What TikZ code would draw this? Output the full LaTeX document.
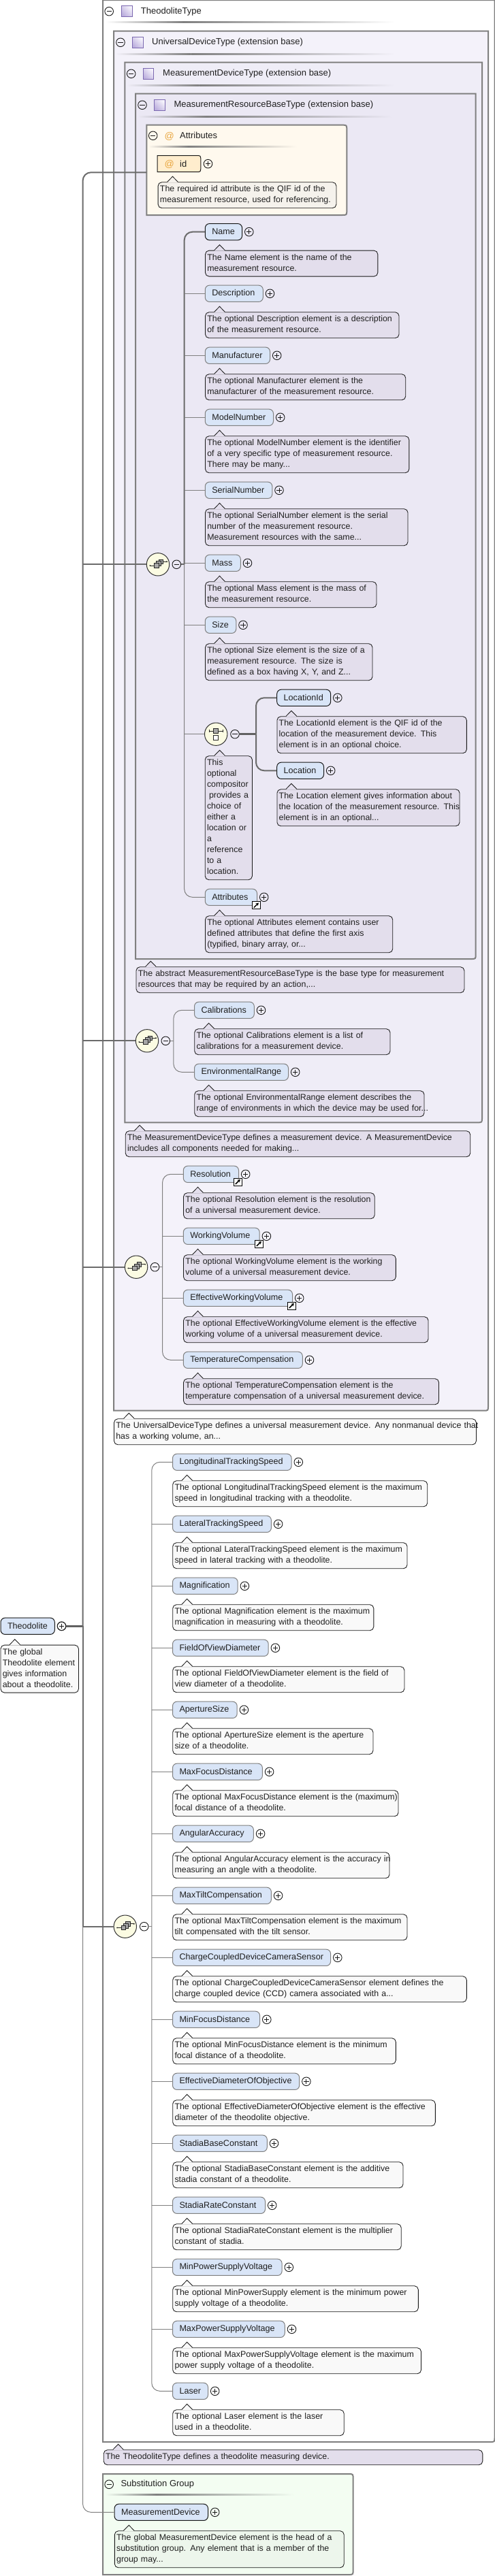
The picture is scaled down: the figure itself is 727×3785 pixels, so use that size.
\documentclass[tikz,border=0pt]{standalone}
\usepackage{fontspec}
\setmainfont{Liberation Sans}
\usetikzlibrary{arrows.meta}
\definecolor{bgU}{HTML}{F4F2FA}
\definecolor{bgM}{HTML}{EFEDF7}
\definecolor{bgR}{HTML}{EBE8F4}
\definecolor{bgA}{HTML}{FFF9EE}
\definecolor{bgS}{HTML}{F3FDF2}
\definecolor{docv}{HTML}{E3DEEC}
\definecolor{docw}{HTML}{F9F9F9}
\definecolor{doca}{HTML}{F5F2EC}
\definecolor{docs}{HTML}{EDF6EC}
\definecolor{elf}{HTML}{D9E5F7}
\definecolor{idf}{HTML}{FFEDCD}
\definecolor{atc}{HTML}{E9A63F}
\definecolor{ovalf}{HTML}{FBFBE2}
\definecolor{bordr}{HTML}{808080}
\definecolor{sqb}{HTML}{7B68B0}
\definecolor{sqd}{HTML}{BDB0DE}
\definecolor{sql}{HTML}{F6F4FC}
\definecolor{symg}{HTML}{A6A6A6}
\tikzset{
  every node/.style={font=\fontsize{12.4}{16}\selectfont,text=black!88},
  cbox/.style={draw=bordr,line width=2pt},
  elbox/.style={draw=bordr,line width=1pt,fill=elf,rounded corners=6.5pt,inner xsep=10pt,inner ysep=0pt,minimum height=24.3pt,align=left,font=\fontsize{12.6}{16}\selectfont},
  req/.style={draw=black!90},
  docbox/.style={draw=black!90,line width=0.85pt,rounded corners=5.5pt,inner xsep=2.8pt,inner ysep=0pt,align=left},
  docln/.style={draw=black!90,line width=0.85pt},
  pm/.style={circle,draw=black!90,line width=0.9pt,minimum size=12.6pt,inner sep=0pt},
  pmln/.style={draw=black!90,line width=0.9pt},
  ttl/.style={anchor=west,inner sep=0pt,font=\fontsize{13}{16}\selectfont},
  oval/.style={circle,draw=black!80,line width=1pt,fill=ovalf,minimum size=33.4pt,inner sep=0pt},
  thn/.style={draw=bordr,line width=1pt},
  mid/.style={draw=black!58,line width=2pt},
  thk/.style={draw=black!62,line width=2.6pt},
  sy/.style={draw=black!85,line width=0.8pt,fill=symg},
  refi/.style={rectangle,draw=black,line width=1pt,fill=white,minimum width=12pt,minimum height=11pt,inner sep=0pt},
}
\newcommand\xsMinus[3]{\node[pm] (#1) at (#2,#3) {}; \draw[pmln] (#2-3.6,#3) -- (#2+3.6,#3);}
\newcommand\xsPlus[3]{\node[pm] (#1) at (#2,#3) {}; \draw[pmln] (#2-3.6,#3) -- (#2+3.6,#3) (#2,#3-3.6) -- (#2,#3+3.6);}
\newcommand\xsSquare[2]{\path[draw=sqb,line width=1pt,shade,shading=axis,left color=sql,right color=sqd,shading angle=-45] (#1,#2) rectangle (#1+15.5,#2+16);}
\newcommand\xsRule[4]{\pgfmathsetmacro\xsp{#1+0.27*(#2-#1)}%
  \shade[left color=#4,right color=bordr] (#1,#3-1) rectangle (\xsp,#3+1);
  \shade[left color=bordr,right color=#4] (\xsp,#3-1) rectangle (#2,#3+1);}
\newcommand\xsBox[5]{\draw[cbox,fill=#5] (#1,#2) -- (#3,#2) -- (#3,#4-7) .. controls (#3,#4) .. (#3-7,#4) -- (#1,#4) -- cycle;}
\newcommand\xsTitle[4]{\node[ttl] (#1) at (#3,#2) {#4};}
\def\xsF{docv}
% id, left, right, top, lines, apex, text
\newcommand\xsDc[7]{\pgfmathsetmacro\xsw{#3-#2}\pgfmathsetmacro\xst{#3-#2-5.6}\pgfmathsetmacro\xsh{6+16*#5}%
  \node[docbox,fill=\xsF,anchor=north west,minimum width=\xsw pt,minimum height=\xsh pt,text width=\xst pt] (#1) at (#2,#4)
    {\begin{tabular}{@{}l@{}}#7\end{tabular}};
  \fill[\xsF] (#6-7.8,#4+0.8) -- (#6,#4-8) -- (#6+7.8,#4+0.8) -- cycle;
  \draw[docln] (#6-7.8,#4) -- (#6,#4-8) -- (#6+7.8,#4);}
% id, style, left, right, cy, label
\newcommand\xsEl[6]{\pgfmathsetmacro\xsw{#4-#3}\pgfmathsetmacro\xst{#4-#3-20}%
  \node[elbox,#2,anchor=west,minimum width=\xsw pt,text width=\xst pt] (#1) at (#3,#5) {\mbox{#6}};
  \xsPlus{#1p}{#4+10.7}{#5}}
% id, style, left, right, cy, docright, lines, label, doctext
\newcommand\xsE[9]{\xsEl{#1}{#2}{#3}{#4}{#5}{#8}
  \xsDc{#1d}{#3+0.3}{#6}{#5+27}{#7}{#3+21.7}{#9}}
\newcommand\xsRef[3]{\node[refi] (#1) at (#2,#3) {};
  \draw[black,line width=1.5pt,-{Stealth[length=4pt,width=5pt]}] (#2-3.2,#3+3.4) -- (#2+3.8,#3-3.6);}
\newcommand\xsSeq[3]{\node[oval] (#1) at (#2,#3) {};
  \draw[black!85,line width=0.8pt] (#2-11.7,#3+1.7) -- (#2-5.7,#3+1.7);
  \fill[black!85] (#2-11.7,#3+1.7) circle (1pt);
  \draw[black!85,line width=0.8pt] (#2+7.7,#3-4) -- (#2+12.5,#3-4);
  \fill[black!85] (#2+13,#3-4) circle (1.1pt);
  \draw[sy] (#2+1,#3-7.3) rectangle (#2+7.7,#3-0.7);
  \draw[sy] (#2-2.4,#3-4.5) rectangle (#2+4.3,#3+2.2);
  \draw[sy] (#2-5.7,#3-1.7) rectangle (#2+1,#3+5);}
\begin{document}
\begin{tikzpicture}[x=1pt,y=-1pt]
\useasboundingbox (0,0) rectangle (727,3785);
\fill[white] (0,0) rectangle (727,3785);
% containers
\xsBox{151}{0}{726.5}{3588}{white}
\xsBox{167}{45.7}{717}{2072.7}{bgU}
\xsBox{183.4}{91.7}{708}{1649.3}{bgM}
\xsBox{199}{137.7}{698.7}{1409}{bgR}
\draw[cbox,fill=bgA] (215.4,183.7) -- (502.3,183.7) .. controls (509.3,183.7) .. (509.3,190.7) -- (509.3,309) .. controls (509.3,316) .. (502.3,316) -- (215.4,316) -- cycle;
\draw[cbox,fill=bgS] (151,3635) -- (511.6,3635) .. controls (518.6,3635) .. (518.6,3642) -- (518.6,3776) .. controls (518.6,3783) .. (511.6,3783) -- (151,3783) -- cycle;
% titles
\xsMinus{mT}{160.2}{16.7}\xsSquare{178.5}{8}\xsTitle{tT}{16.7}{206.7}{TheodoliteType}\xsRule{155}{580}{32.7}{white}
\xsMinus{mU}{177}{62.3}\xsSquare{194.5}{54.3}\xsTitle{tU}{62.3}{223}{UniversalDeviceType (extension base)}\xsRule{169.5}{580}{79}{bgU}
\xsMinus{mM}{192.7}{108.3}\xsSquare{210}{100.3}\xsTitle{tM}{108.3}{239}{MeasurementDeviceType (extension base)}\xsRule{186}{580}{125}{bgM}
\xsMinus{mR}{209}{154.3}\xsSquare{226.5}{146.3}\xsTitle{tR}{154.3}{255.3}{MeasurementResourceBaseType (extension base)}\xsRule{202}{576}{171}{bgR}
\xsMinus{mA}{224.7}{199.3}\node[ttl,text=atc] (atA) at (241.5,200.7) {\fontsize{14}{16}\selectfont @};\xsTitle{tA}{199.3}{264}{Attributes}\xsRule{218}{436}{215}{bgA}
\xsMinus{mS}{160.2}{3650.3}\xsTitle{tS}{3650.3}{177.3}{Substitution Group}\xsRule{155}{432}{3665.7}{bgS}
% id attribute
\draw[line width=1pt,draw=black!90,fill=idf] (231.2,228.5) -- (288,228.5) .. controls (294.8,228.5) .. (294.8,235.5) -- (294.8,245.5) .. controls (294.8,252.7) .. (288,252.7) -- (231.2,252.7) -- cycle;
\node[ttl,text=atc] (atId) at (241.5,241.5) {\fontsize{14}{16}\selectfont @};
\node[ttl] (nId) at (264,240.7) {id};
\xsPlus{pId}{305.5}{240.7}
\def\xsF{doca}
\xsDc{dId}{231.7}{493.5}{267.3}{2}{253.5}{The required id attribute is the QIF id of the\\measurement resource, used for referencing.}
% Resource sequence
\def\xsF{docv}
\xsE{eName}{req}{300.8}{355.1}{340.7}{553.8}{2}{Name}{The Name element is the name of the\\measurement resource.}
\xsE{eDesc}{}{300.8}{385.8}{431.3}{585}{2}{Description}{The optional Description element is a description\\of the measurement resource.}
\xsE{eManu}{}{300.8}{396}{522.3}{594.7}{2}{Manufacturer}{The optional Manufacturer element is the\\manufacturer of the measurement resource.}
\xsE{eModel}{}{300.8}{401}{613.3}{599.8}{3}{ModelNumber}{The optional ModelNumber element is the identifier\\of a very specific type of measurement resource.\\There may be many...}
\xsE{eSerial}{}{300.8}{399.3}{720.3}{598}{3}{SerialNumber}{The optional SerialNumber element is the serial\\number of the measurement resource.\\Measurement resources with the same...}
\xsE{eMass}{}{300.8}{352.8}{827.3}{552}{2}{Mass}{The optional Mass element is the mass of\\the measurement resource.}
\xsE{eSize}{}{300.8}{346.3}{918.3}{546}{3}{Size}{The optional Size element is the size of a\\measurement resource. The size is\\defined as a box having X, Y, and Z...}
\xsE{eLocId}{req}{406.2}{485.1}{1025.3}{684.3}{3}{LocationId}{The LocationId element is the QIF id of the\\location of the measurement device. This\\element is in an optional choice.}
\xsE{eLoc}{req}{406.2}{475}{1132.3}{674}{3}{Location}{The Location element gives information about\\the location of the measurement resource. This\\element is in an optional...}
\xsDc{dCh}{300.8}{370}{1110.3}{11}{322.6}{This\\optional\\compositor\\\hspace{3pt}provides a\\choice of\\either a\\location or\\a\\reference\\to a\\location.}
\xsE{eAttr}{}{300.8}{377}{1318.3}{575.7}{3}{Attributes}{The optional Attributes element contains user\\defined attributes that define the first axis\\(typified, binary array, or...}
\xsRef{rAttr}{376}{1330.2}
\xsDc{dRes}{199.6}{681.5}{1420.3}{2}{221.4}{The abstract MeasurementResourceBaseType is the base type for measurement\\resources that may be required by an action,...}
% Measurement sequence
\xsE{eCal}{}{285}{372.8}{1484.3}{572}{2}{Calibrations}{The optional Calibrations element is a list of\\calibrations for a measurement device.}
\xsE{eEnv}{}{285}{423}{1575.3}{622}{2}{EnvironmentalRange}{The optional EnvironmentalRange element describes the\\range of environments in which the device may be used for...}
\xsDc{dMeas}{183.8}{690.3}{1661.3}{2}{205.2}{The MeasurementDeviceType defines a measurement device. A MeasurementDevice\\includes all components needed for making...}
% Universal sequence
\xsE{eRes}{}{268.8}{350}{1725.3}{549.2}{2}{Resolution}{The optional Resolution element is the resolution\\of a universal measurement device.}
\xsRef{rRes}{349}{1736.5}
\xsE{eWork}{}{268.8}{380.7}{1816.3}{580.3}{2}{WorkingVolume}{The optional WorkingVolume element is the working\\volume of a universal measurement device.}
\xsRef{rWork}{380}{1827.5}
\xsE{eEff}{}{268.8}{429}{1907.3}{628}{2}{EffectiveWorkingVolume}{The optional EffectiveWorkingVolume element is the effective\\working volume of a universal measurement device.}
\xsRef{rEff}{428}{1918.5}
\xsE{eTemp}{}{268.8}{443.8}{1998.3}{643.5}{2}{TemperatureCompensation}{The optional TemperatureCompensation element is the\\temperature compensation of a universal measurement device.}
\def\xsF{docw}
\xsDc{dUni}{167.1}{699}{2084.3}{2}{189.4}{The UniversalDeviceType defines a universal measurement device. Any nonmanual device that\\has a working volume, an...}
% Theodolite sequence
\xsE{eLong}{}{253}{427.6}{2148.3}{626.7}{2}{LongitudinalTrackingSpeed}{The optional LongitudinalTrackingSpeed element is the maximum\\speed in longitudinal tracking with a theodolite.}
\xsE{eLat}{}{253}{397.9}{2239.3}{597}{2}{LateralTrackingSpeed}{The optional LateralTrackingSpeed element is the maximum\\speed in lateral tracking with a theodolite.}
\xsE{eMag}{}{253}{348.7}{2330.3}{547.8}{2}{Magnification}{The optional Magnification element is the maximum\\magnification in measuring with a theodolite.}
\xsE{eFov}{}{253}{393.7}{2421.3}{592.9}{2}{FieldOfViewDiameter}{The optional FieldOfViewDiameter element is the field of\\view diameter of a theodolite.}
\xsE{eApt}{}{253}{347.7}{2512.3}{546.9}{2}{ApertureSize}{The optional ApertureSize element is the aperture\\size of a theodolite.}
\xsE{eMaxF}{}{253}{384.9}{2603.3}{584}{2}{MaxFocusDistance}{The optional MaxFocusDistance element is the (maximum)\\focal distance of a theodolite.}
\xsE{eAng}{}{253}{371.9}{2694.3}{571}{2}{AngularAccuracy}{The optional AngularAccuracy element is the accuracy in\\measuring an angle with a theodolite.}
\xsE{eTilt}{}{253}{397.9}{2785.3}{597}{2}{MaxTiltCompensation}{The optional MaxTiltCompensation element is the maximum\\tilt compensated with the tilt sensor.}
\xsE{eCcd}{}{253}{485.1}{2876.3}{684.3}{2}{ChargeCoupledDeviceCameraSensor}{The optional ChargeCoupledDeviceCameraSensor element defines the\\charge coupled device (CCD) camera associated with a...}
\xsE{eMinF}{}{253}{381.1}{2967.3}{580.3}{2}{MinFocusDistance}{The optional MinFocusDistance element is the minimum\\focal distance of a theodolite.}
\xsE{eObj}{}{253}{439.2}{3058.3}{638.3}{2}{EffectiveDiameterOfObjective}{The optional EffectiveDiameterOfObjective element is the effective\\diameter of the theodolite objective.}
\xsE{eBase}{}{253}{391.8}{3149.3}{591}{2}{StadiaBaseConstant}{The optional StadiaBaseConstant element is the additive\\stadia constant of a theodolite.}
\xsE{eRate}{}{253}{389}{3240.3}{588.2}{2}{StadiaRateConstant}{The optional StadiaRateConstant element is the multiplier\\constant of stadia.}
\xsE{eMinP}{}{253}{413.6}{3331.3}{613.3}{2}{MinPowerSupplyVoltage}{The optional MinPowerSupply element is the minimum power\\supply voltage of a theodolite.}
\xsE{eMaxP}{}{253}{417.8}{3422.3}{617.5}{2}{MaxPowerSupplyVoltage}{The optional MaxPowerSupplyVoltage element is the maximum\\power supply voltage of a theodolite.}
\xsE{eLaser}{}{253}{305}{3513.3}{504.2}{2}{Laser}{The optional Laser element is the laser\\used in a theodolite.}
\def\xsF{docv}
\xsDc{dTheoT}{151.8}{708.4}{3599.3}{1}{173.6}{The TheodoliteType defines a theodolite measuring device.}
% Substitution
\def\xsF{docs}
\xsE{eMD}{req}{167.6}{305}{3691.3}{504.2}{3}{MeasurementDevice}{The global MeasurementDevice element is the head of a\\substitution group. Any element that is a member of the\\group may...}
% Theodolite
\def\xsF{docw}
\xsEl{eTheo}{req}{0.5}{79.8}{2389.3}{Theodolite}
\xsDc{dTheo}{0.6}{115}{2416.7}{4}{21.8}{The global\\Theodolite element\\gives information\\about a theodolite.}
% compositors
\xsSeq{sA}{232}{829.3}\xsMinus{sAm}{259.3}{829.3}
\xsSeq{sB}{216}{1529.3}\xsMinus{sBm}{243.3}{1529.3}
\xsSeq{sC}{200.1}{1861.7}\xsMinus{sCm}{227.5}{1861.7}
\xsSeq{sD}{183.8}{2830.7}\xsMinus{sDm}{211.7}{2830.7}
\node[oval] (ch) at (317.2,1078.7) {};
\draw[black!85,line width=0.8pt] (307.3,1074) -- (327.3,1074) (307.3,1072) -- (307.3,1076) (327.3,1072) -- (327.3,1076);
\draw[sy] (313.4,1070.7) rectangle (320.8,1077.3);
\draw[black!85,line width=0.8pt,fill=white] (313.4,1080.7) rectangle (320.8,1087.7);
\xsMinus{chm}{345}{1078.7}
\xsMinus{mTh}{90.5}{2389.3}
% spine coordinates
\coordinate (trunkA) at (121.6,2389.3);
\coordinate (trunkB) at (121.6,2830.7);
\coordinate (attrlink) at (215.4,253.3);
\coordinate (spA) at (270.7,829.3);
\coordinate (spCh) at (376,1078.7);
\coordinate (spB) at (254.9,1529.3);
\coordinate (spC) at (238.6,1861.7);
\coordinate (spD) at (222.8,2830.7);
% trunk
\draw[thk] (mTh.east) -- (trunkA);
\draw[mid,rounded corners=12pt] (attrlink) -| (trunkA);
\draw[mid] (trunkA) -- (trunkB);
\draw[thn,rounded corners=12pt] (trunkB) |- (eMD.west);
\draw[mid] (sA.west) -- (sA.west -| trunkA);
\draw[mid] (sB.west) -- (sB.west -| trunkA);
\draw[mid] (sC.west) -- (sC.west -| trunkA);
\draw[mid] (sD.west) -- (sD.west -| trunkA);
% resource sequence
\draw[mid] (sAm.east) -- (spA);
\draw[mid,rounded corners=12pt] (eName.west) -| (spA);
\draw[thn,rounded corners=12pt] (spA) |- (eAttr.west);
\foreach \n in {eDesc,eManu,eModel,eSerial,eMass,eSize,ch} \draw[thn] (\n.west) -- (\n.west -| spA);
% choice
\draw[thk] (chm.east) -- (spCh);
\draw[mid,rounded corners=12pt] (eLocId.west) -| (spCh);
\draw[mid,rounded corners=12pt] (spCh) |- (eLoc.west);
% measurement sequence
\draw[thn] (sBm.east) -- (spB);
\draw[thn,rounded corners=12pt] (eCal.west) -| (spB);
\draw[thn,rounded corners=12pt] (spB) |- (eEnv.west);
% universal sequence
\draw[thn] (sCm.east) -- (spC);
\draw[thn,rounded corners=12pt] (eRes.west) -| (spC);
\draw[thn,rounded corners=12pt] (spC) |- (eTemp.west);
\foreach \n in {eWork,eEff} \draw[thn] (\n.west) -- (\n.west -| spC);
% theodolite sequence
\draw[thn] (sDm.east) -- (spD);
\draw[thn,rounded corners=12pt] (eLong.west) -| (spD);
\draw[thn,rounded corners=12pt] (spD) |- (eLaser.west);
\foreach \n in {eLat,eMag,eFov,eApt,eMaxF,eAng,eTilt,eCcd,eMinF,eObj,eBase,eRate,eMinP,eMaxP} \draw[thn] (\n.west) -- (\n.west -| spD);
\end{tikzpicture}
\end{document}
